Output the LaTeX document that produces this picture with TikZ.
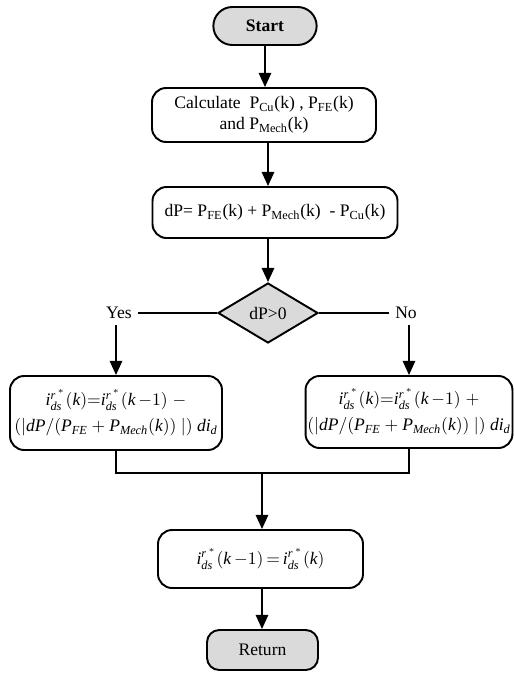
\documentclass[tikz,border=0pt]{standalone}
\usepackage{fontspec}
\setmainfont{Liberation Serif}
\usetikzlibrary{shapes.geometric, shapes.misc, arrows.meta, positioning}
\definecolor{termGray}{RGB}{218, 218, 218}
\newcommand{\mi}[1]{\mathit{#1}}
\newcommand{\idsr}{\mi{i}_{\mi{ds}}^{\mi{r}^{\,*}}}
\tikzset{
  termnode/.style={
    rounded rectangle,
    draw, line width=1.1pt, fill=termGray,
    minimum width=2.3cm, minimum height=0.76cm,
    font=\bfseries
  },
  endnode/.style={
    rectangle, rounded corners=7pt,
    draw, line width=1.1pt, fill=termGray,
    minimum width=2.22cm, minimum height=0.8cm
  },
  procnode/.style={
    rectangle, rounded corners=8pt,
    draw, line width=1.1pt,
    align=center, inner sep=2pt
  },
  decnode/.style={
    diamond,
    draw, line width=1.1pt, fill=termGray,
    minimum width=2cm, minimum height=1.2cm,
    inner sep=0pt
  },
  flowarrow/.style={
    -{Triangle[length=8pt,width=7pt]}, line width=1.1pt
  },
  flowline/.style={
    line width=1.1pt
  }
}

\begin{document}
\begin{tikzpicture}
  \useasboundingbox (0,0) rectangle (10.28,-13.74);

  \node[termnode] (start) at (5.3,-0.52) {Start};
  \node[procnode, minimum width=4.48cm, minimum height=1.08cm] (calc) at (5.28,-2.3)
    {Calculate~~P\textsubscript{Cu}(k)~, P\textsubscript{FE}(k)\\and P\textsubscript{Mech}(k)};
  \node[procnode, minimum width=4.9cm, minimum height=1.02cm] (dp) at (5.5,-4.25)
    {dP= P\textsubscript{FE}(k) + P\textsubscript{Mech}(k)~~- P\textsubscript{Cu}(k)};
  \node[decnode] (dec) at (5.36,-6.26) {dP>0};

  \node (yes) at (2.38,-6.26) {Yes};
  \node (no)  at (8.12,-6.26) {No};

  \node[procnode, inner xsep=1pt, minimum width=4.24cm, minimum height=1.48cm] (upleft) at (2.32,-8.26)
    {$\idsr(\mi{k}){=}\idsr(\mi{k}\,{-}1)\;-$\\[3pt]
     $(|\mi{dP}/(\mi{P}_{\mi{FE}} + \mi{P}_{\mi{Mech}}(\mi{k}))\ |)\ \mi{di}_{\mi{d}}$};
  \node[procnode, inner xsep=1pt, minimum width=3.98cm, minimum height=1.44cm] (upright) at (8.18,-8.24)
    {$\idsr(\mi{k}){=}\idsr(\mi{k}\,{-}1)\;+$\\[3pt]
     $(|\mi{dP}/(\mi{P}_{\mi{FE}} + \mi{P}_{\mi{Mech}}(\mi{k}))\ |)\ \mi{di}_{\mi{d}}$};

  \coordinate (join) at (5.24,-9.46);

  \node[procnode, minimum width=4.1cm, minimum height=1.16cm] (store) at (5.21,-11.18)
    {$\idsr(\mi{k}\,{-}1)\,{=}\,\idsr(\mi{k})$};
  \node[endnode] (ret) at (5.25,-13.0) {Return};

  \draw[flowarrow] (start) -- (start |- calc.north);
  \draw[flowarrow] (dec.north |- calc.south) -- (dec.north |- dp.north);
  \draw[flowarrow] (dec.north |- dp.south) -- (dec.north);
  \draw[flowline] (dec.west) -- (yes.east);
  \draw[flowline] (dec.east) -- (no.west);
  \draw[flowarrow] (yes.south -| upleft.north) -- (upleft.north);
  \draw[flowarrow] (no.south -| upright.north) -- (upright.north);
  \draw[flowline] (upleft.south) |- (join);
  \draw[flowline] (upright.south) |- (join);
  \draw[flowarrow] (join) -- (join |- store.north);
  \draw[flowarrow] (join |- store.south) -- (join |- ret.north);
\end{tikzpicture}
\end{document}
